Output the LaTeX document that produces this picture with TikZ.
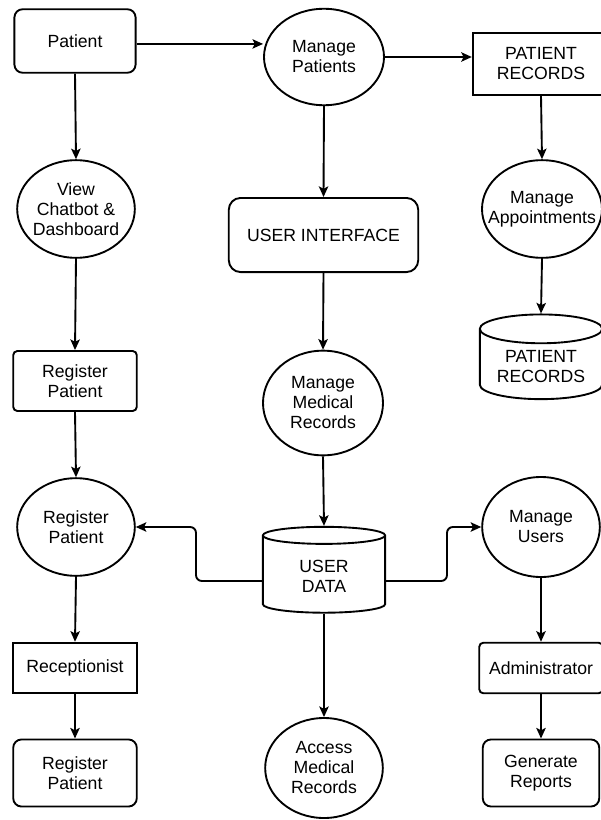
\documentclass[tikz,border=0pt]{standalone}
\usepackage{fontspec}
\setmainfont{Liberation Sans}
\usetikzlibrary{shapes,arrows.meta,positioning,calc}

\tikzset{
  lbl/.style={font=\fontsize{15}{17}\selectfont, align=center, line width=1.6pt, draw},
  proc/.style={lbl, ellipse, inner xsep=-12pt, inner ysep=0pt},
  rbox/.style={lbl, rectangle, rounded corners=7pt},
  sbox/.style={lbl, rectangle},
  store/.style={lbl, cylinder, shape border rotate=90, shape aspect=0.3},
  flow/.style={-{Stealth[length=9pt,width=8pt,inset=2pt]}, line width=1.6pt}
}

\begin{document}
\begin{tikzpicture}[x=0.85pt,y=-0.85pt]
\useasboundingbox (0,0) rectangle (600,820);

% left column
\node[rbox, minimum width=103pt, minimum height=54pt] (patient) at (75,41) {Patient};
\node[proc, minimum width=100pt, minimum height=83pt] (view) at (76,209) {View\\Chatbot \&\\Dashboard};
\node[rbox, rounded corners=3.5pt, minimum width=105pt, minimum height=51pt] (regbox) at (75,381) {Register\\Patient};
\node[proc, minimum width=100pt, minimum height=83pt] (regell) at (76,527) {Register\\Patient};
\node[sbox, minimum width=105pt, minimum height=43pt] (recep) at (75,668) {Receptionist};
\node[rbox, minimum width=105pt, minimum height=57pt] (regend) at (75,773) {Register\\Patient};

% middle column
\node[proc, minimum width=102pt, minimum height=82pt] (mpat) at (324,57) {Manage\\Patients};
\node[rbox, rounded corners=10pt, minimum width=161pt, minimum height=63pt] (ui) at (323.5,235) {USER INTERFACE};
\node[proc, minimum width=102pt, minimum height=89pt] (mmed) at (323,403) {Manage\\Medical\\Records};
\node[store, minimum width=104pt, minimum height=73pt] (udata) at (324,576) {USER\\DATA};
\node[proc, minimum width=100pt, minimum height=85pt] (access) at (324,768) {Access\\Medical\\Records};

% right column
\node[sbox, minimum width=116pt, minimum height=52pt] (precs) at (541,64) {PATIENT\\RECORDS};
\node[proc, minimum width=102pt, minimum height=83pt] (mapp) at (542,209) {Manage\\Appointments};
\node[store, minimum width=104pt, minimum height=72pt] (pstore) at (541,367) {PATIENT\\RECORDS};
\node[proc, minimum width=100pt, minimum height=85pt] (musers) at (541,527) {Manage\\Users};
\node[rbox, rounded corners=3.5pt, minimum width=105pt, minimum height=43pt] (admin) at (541,668) {Administrator};
\node[rbox, minimum width=99pt, minimum height=57pt] (genrep) at (541,773) {Generate\\Reports};

\coordinate (lbend) at (196,581);
\coordinate (rbend) at (447,581);

\draw[flow] ([yshift=-2.5pt]patient.east) -- ([yshift=-2.5pt]patient.east -| mpat.west);
\draw[flow] (mpat.east) -- (mpat.east -| precs.west);

\foreach \a/\b in {patient/view, view/regbox, regbox/regell, regell/recep, recep/regend,
                   mpat/ui, ui/mmed, mmed/udata, udata/access,
                   precs/mapp, mapp/pstore, musers/admin, admin/genrep}
  \draw[flow] (\a.south) -- (\b.north);

\draw[flow, rounded corners=5pt] (udata.west |- lbend) -- (lbend) |- (regell.east);
\draw[flow, rounded corners=5pt] (udata.east |- rbend) -- (rbend) |- (musers.west);
\end{tikzpicture}
\end{document}
